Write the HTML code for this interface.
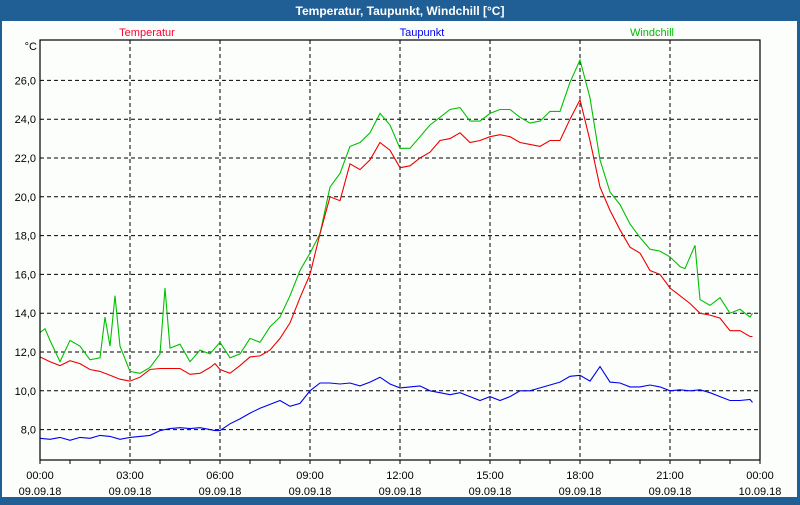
<!DOCTYPE html>
<html><head><meta charset="utf-8"><style>
html,body{margin:0;padding:0;width:800px;height:500px;overflow:hidden;background:#1f5f96;}
#frame{position:absolute;left:0;top:0;width:800px;height:500px;}
</style></head><body>
<div id="frame">
<svg id="svg" width="800" height="500" xmlns="http://www.w3.org/2000/svg" font-family="Liberation Sans, sans-serif">
<rect x="0" y="0" width="800" height="500" fill="#1f5f96"/>
<rect x="2" y="21" width="795" height="476" fill="#fcfefc"/>
<text x="400" y="15" text-anchor="middle" fill="#fff" font-size="12" font-weight="bold">Temperatur, Taupunkt, Windchill [°C]</text>
<text x="147" y="36" text-anchor="middle" fill="#ff0033" font-size="11">Temperatur</text>
<text x="422" y="36" text-anchor="middle" fill="#0000ee" font-size="11">Taupunkt</text>
<text x="652" y="36" text-anchor="middle" fill="#00bb00" font-size="11">Windchill</text>
<text x="37" y="50" text-anchor="end" fill="#000" font-size="11">°C</text>
<g id="grid"></g><g id="series"></g>
<rect x="40" y="40" width="720" height="420" fill="none" stroke="#000" stroke-width="1.2"/>
<g id="axes"></g>
</svg>
</div>
<script>
const yTicks=[8,10,12,14,16,18,20,22,24,26];
const xTickHours=[0,3,6,9,12,15,18,21,24];
const xTickTimes=["00:00","03:00","06:00","09:00","12:00","15:00","18:00","21:00","00:00"];
const xTickDates=["09.09.18","09.09.18","09.09.18","09.09.18","09.09.18","09.09.18","09.09.18","09.09.18","10.09.18"];
const stdTimes=[0,0.333,0.667,1,1.333,1.667,2,2.333,2.667,3,3.333,3.667,4,4.333,4.667,5,5.333,5.667,5.833,6,6.333,6.667,7,7.333,7.667,8,8.333,8.667,9,9.333,9.667,10,10.333,10.667,11,11.333,11.667,12,12.333,12.667,13,13.333,13.667,14,14.333,14.667,15,15.333,15.667,16,16.333,16.667,17,17.333,17.667,18,18.333,18.667,19,19.333,19.667,20,20.333,20.667,21,21.333,21.667,22,22.333,22.667,23,23.333,23.667,23.75];
const temperatur=[11.75,11.5,11.3,11.55,11.4,11.1,11.0,10.8,10.6,10.5,10.7,11.1,11.15,11.15,11.15,10.85,10.9,11.2,11.4,11.1,10.9,11.3,11.75,11.8,12.1,12.7,13.5,14.8,16.0,18.1,20.0,19.8,21.7,21.4,21.9,22.8,22.4,21.5,21.6,22.0,22.3,22.9,23.0,23.3,22.8,22.9,23.1,23.2,23.1,22.8,22.7,22.6,22.9,22.9,24.0,25.0,22.9,20.5,19.3,18.3,17.4,17.1,16.2,16.0,15.3,14.9,14.5,14.0,13.9,13.75,13.1,13.1,12.8,12.8];
const taupunkt=[7.55,7.5,7.6,7.45,7.6,7.55,7.7,7.65,7.5,7.6,7.65,7.7,7.95,8.05,8.1,8.05,8.1,8.0,7.95,7.95,8.3,8.55,8.85,9.1,9.3,9.5,9.2,9.35,10.0,10.4,10.4,10.35,10.4,10.25,10.45,10.7,10.35,10.15,10.2,10.25,10.0,9.9,9.8,9.9,9.7,9.5,9.7,9.5,9.7,10.0,10.0,10.15,10.3,10.45,10.75,10.8,10.5,11.25,10.45,10.4,10.2,10.2,10.3,10.2,10.0,10.05,10.0,10.05,9.9,9.7,9.5,9.5,9.55,9.4];
const windTimes=[0,0.167,0.333,0.667,1,1.333,1.667,2,2.167,2.333,2.5,2.667,3,3.333,3.667,4,4.167,4.333,4.667,5,5.333,5.667,6,6.333,6.667,7,7.333,7.667,8,8.333,8.667,9,9.333,9.667,10,10.333,10.667,11,11.333,11.667,12,12.333,12.667,13,13.333,13.667,14,14.333,14.667,15,15.333,15.667,16,16.333,16.667,17,17.333,17.667,18,18.333,18.667,19,19.333,19.667,20,20.333,20.667,21,21.333,21.5,21.833,22,22.333,22.667,23,23.333,23.667,23.75];
const windchill=[13.0,13.2,12.6,11.5,12.6,12.3,11.6,11.7,13.8,12.3,14.9,12.3,11.0,10.9,11.2,11.9,15.3,12.2,12.4,11.5,12.1,11.9,12.5,11.7,11.9,12.7,12.5,13.3,13.8,14.9,16.2,17.1,18.1,20.5,21.2,22.6,22.8,23.3,24.3,23.7,22.5,22.5,23.1,23.7,24.1,24.5,24.6,23.9,23.9,24.3,24.5,24.5,24.1,23.8,23.9,24.4,24.4,25.9,27.05,25.1,21.9,20.25,19.6,18.6,17.9,17.3,17.2,16.9,16.4,16.3,17.5,14.7,14.4,14.8,14.0,14.2,13.8,14.0];

const X0=40,X1=760,Y0=460,YT=40;
function xs(h){return X0+h*(X1-X0)/24;}
function ys(v){return 352-(v-12)*19.4;}
const NS="http://www.w3.org/2000/svg";
function mk(tag,attrs,parent){const e=document.createElementNS(NS,tag);for(const k in attrs)e.setAttribute(k,attrs[k]);parent.appendChild(e);return e;}
const grid=document.getElementById('grid'),axes=document.getElementById('axes'),ser=document.getElementById('series');
yTicks.forEach(v=>{
  const l=mk('line',{x1:X0,x2:X1,y1:ys(v),y2:ys(v),stroke:'#000','stroke-dasharray':'4,3','stroke-width':1},grid);
  
  
  const t=mk('text',{x:36,y:ys(v)+4,'text-anchor':'end','font-size':11,fill:'#000'},axes);
  t.textContent=v.toFixed(1).replace('.',',');
  
  
});
xTickHours.forEach((h,i)=>{
  if(h>0&&h<24){
    const l=mk('line',{x1:xs(h),x2:xs(h),y1:YT,y2:Y0,stroke:'#000','stroke-dasharray':'4,3','stroke-width':1},grid);
    
    
  }
  const t1=mk('text',{x:xs(h),y:479,'text-anchor':'middle','font-size':11,fill:'#000'},axes);
  t1.textContent=xTickTimes[i];
  
  
  const t2=mk('text',{x:xs(h),y:495,'text-anchor':'middle','font-size':11,fill:'#000'},axes);
  t2.textContent=xTickDates[i];
  
  
});
for(let h=0;h<=24;h++){
  const tk=mk('line',{x1:xs(h),x2:xs(h),y1:Y0,y2:Y0+4,stroke:'#000','stroke-width':1},axes);
  
  
}
function line(times,vals,color,name){
  const pts=times.map((t,i)=>xs(t).toFixed(1)+','+ys(vals[i]).toFixed(1)).join(' ');
  const p=mk('polyline',{points:pts,fill:'none',stroke:color,'stroke-width':1.1},ser);
  
  
}
line(stdTimes,taupunkt,'#0000ee','taupunkt-line');
line(windTimes,windchill,'#00c000','windchill-line');
line(stdTimes,temperatur,'#ee0000','temperatur-line');
</script>
</body></html>
